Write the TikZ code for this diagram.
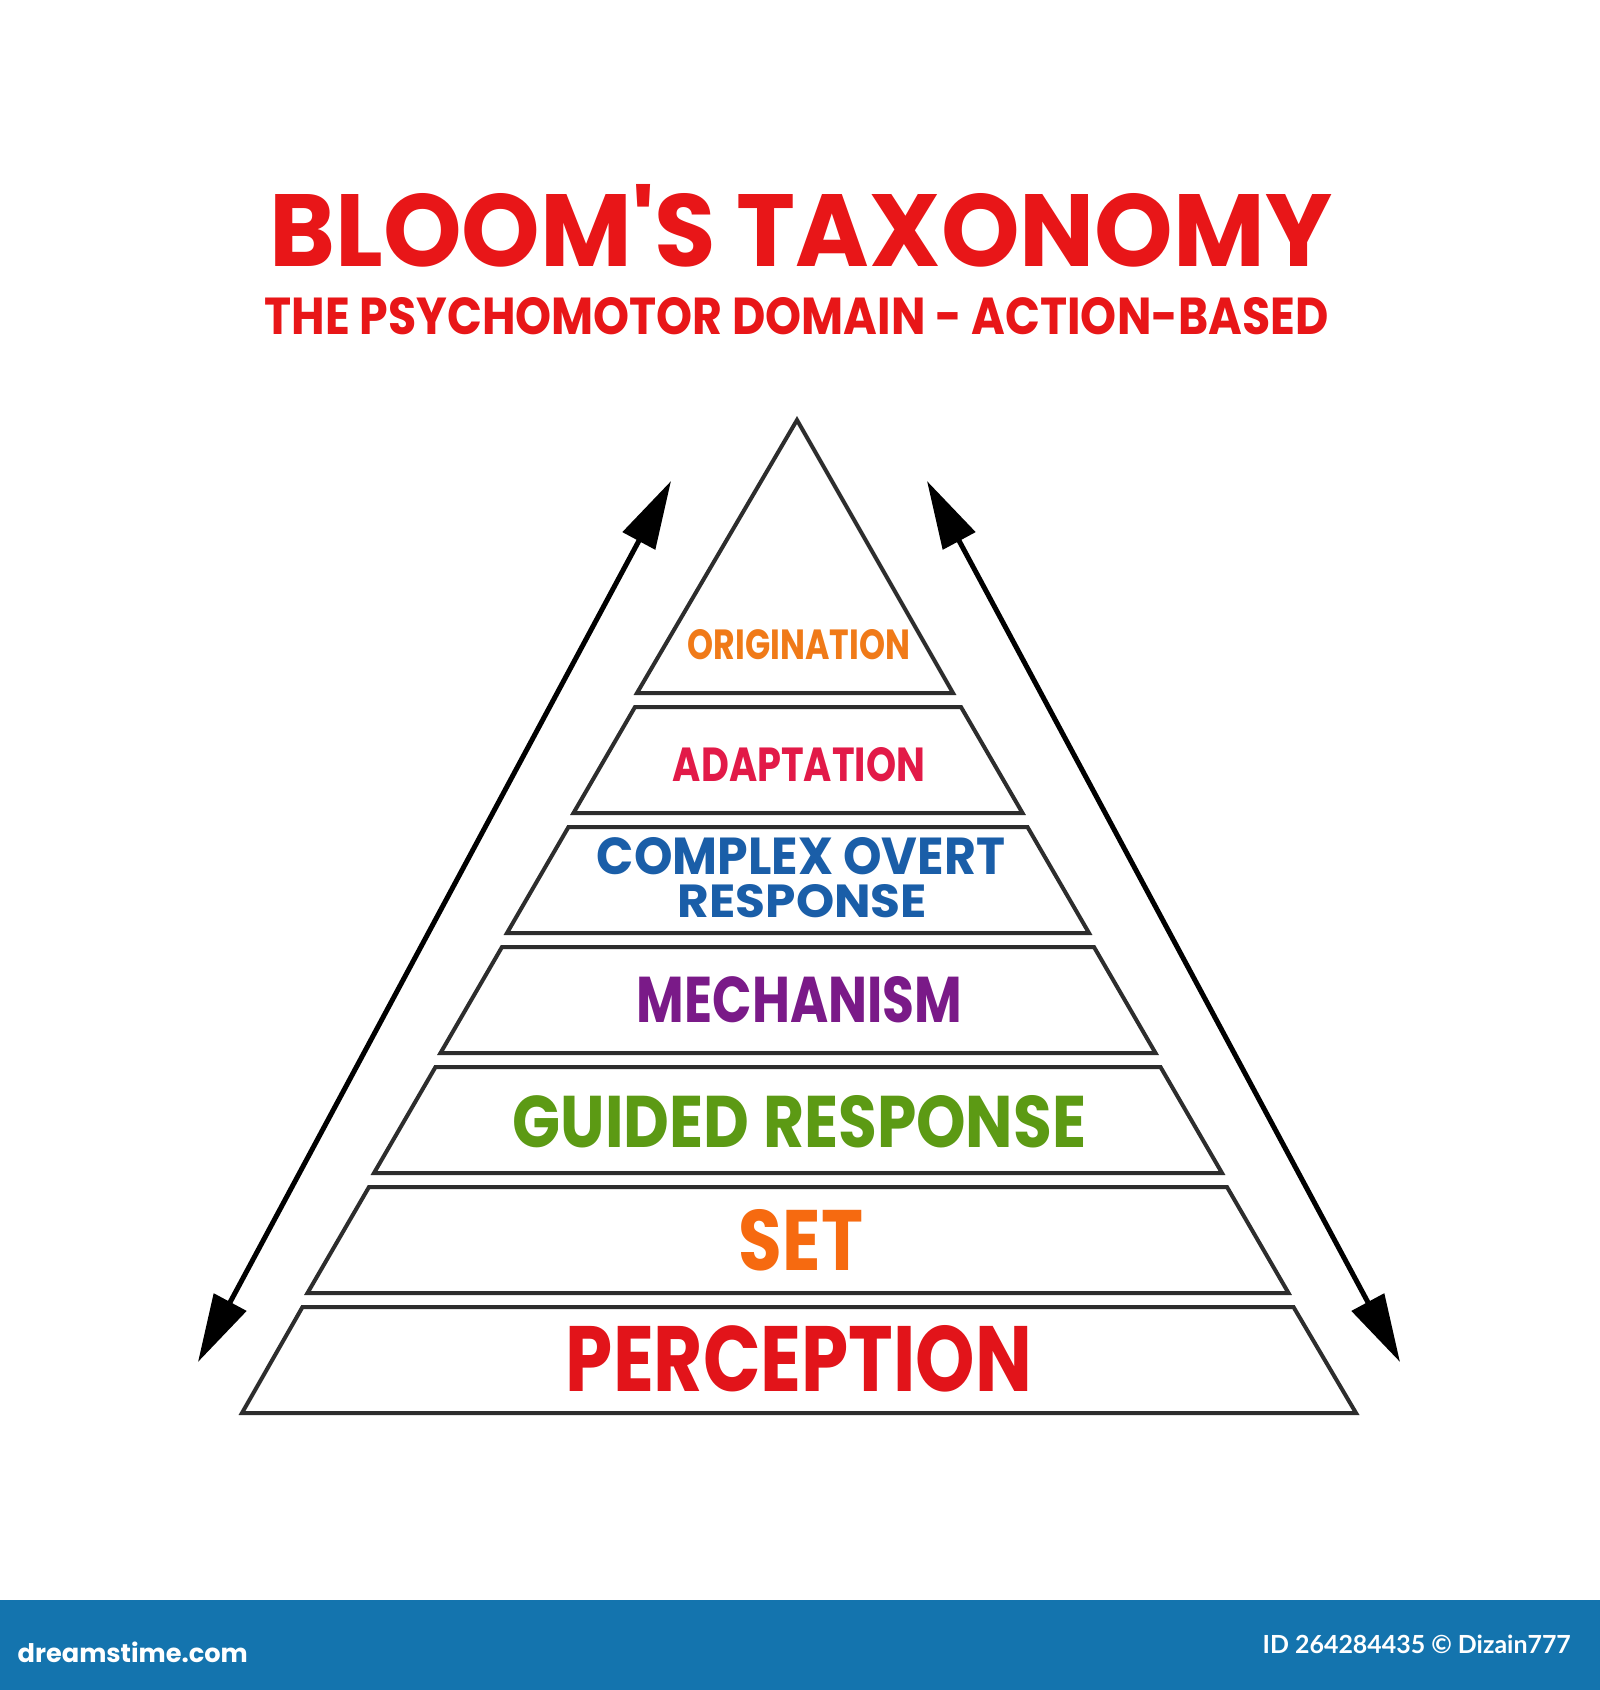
\documentclass[tikz,border=0pt]{standalone}
\usepackage{fontspec}
\usepackage{graphicx}
\usetikzlibrary{arrows.meta}
\newfontfamily\hand{Poppins}
\newfontfamily\uifont{Lato}
\definecolor{titlered}{RGB}{232,22,24}
\definecolor{origorange}{RGB}{240,122,24}
\definecolor{adaptred}{RGB}{226,26,72}
\definecolor{complexblue}{RGB}{26,94,168}
\definecolor{mechpurple}{RGB}{122,26,136}
\definecolor{guidedgreen}{RGB}{92,154,20}
\definecolor{setorange}{RGB}{246,106,16}
\definecolor{percred}{RGB}{226,20,26}
\definecolor{barblue}{RGB}{20,116,174}
\definecolor{edgegray}{RGB}{45,45,45}
\newcommand{\fitbox}[3]{\resizebox{#1cm}{#2cm}{\hand\bfseries #3}}
\tikzset{
  band/.style={draw=edgegray, line width=0.04cm, line join=miter, fill=white},
  lbl/.style={inner sep=0pt, outer sep=0pt, anchor=center},
  dblarrow/.style={draw=black, line width=0.05cm, {Triangle[length=0.68cm,width=0.36cm]}-{Triangle[length=0.68cm,width=0.36cm]}}
}
\begin{document}
\begin{tikzpicture}[x=0.01cm, y=-0.01cm]
\useasboundingbox (0,0) rectangle (1600,1690);
\fill[white] (0,0) rectangle (1600,1690);

% title
\node[lbl, text=titlered] (title) at (801,226) {\fitbox{10.62}{0.82}{BLOOM'S TAXONOMY}};
\node[lbl, text=titlered] (subtitle) at (796.5,316) {\fitbox{10.63}{0.37}{THE PSYCHOMOTOR DOMAIN - ACTION-BASED}};

% arrows
\coordinate (lt) at (671,481);
\coordinate (lb) at (198,1362);
\coordinate (rt) at (927,481);
\coordinate (rb) at (1400,1362);
\draw[dblarrow] (lb) -- (lt);
\draw[dblarrow] (rb) -- (rt);

% pyramid bands
\draw[band] (797,420) -- (953,693) -- (637,693) -- cycle;
\draw[band] (635,707) -- (961,707) -- (1022.5,813) -- (573.5,813) -- cycle;
\draw[band] (568.5,827) -- (1027.5,827) -- (1089,933) -- (507,933) -- cycle;
\draw[band] (502,947) -- (1094,947) -- (1155.5,1053) -- (440.5,1053) -- cycle;
\draw[band] (435.5,1067) -- (1160.5,1067) -- (1222,1173) -- (374,1173) -- cycle;
\draw[band] (369,1187) -- (1227,1187) -- (1288.5,1293) -- (307.5,1293) -- cycle;
\draw[band] (302.5,1307) -- (1293.5,1307) -- (1356,1413) -- (242,1413) -- cycle;

% labels
\node[lbl, text=origorange] (orig) at (799,645) {\fitbox{2.22}{0.30}{ORIGINATION}};
\node[lbl, text=adaptred] (adapt) at (799,765) {\fitbox{2.52}{0.34}{ADAPTATION}};
\node[lbl, text=complexblue] (complex1) at (801,856) {\fitbox{4.08}{0.37}{COMPLEX OVERT}};
\node[lbl, text=complexblue] (complex2) at (802.5,901) {\fitbox{2.49}{0.33}{RESPONSE}};
\node[lbl, text=mechpurple] (mech) at (799.5,1000) {\fitbox{3.25}{0.46}{MECHANISM}};
\node[lbl, text=guidedgreen] (guided) at (799.5,1122) {\fitbox{5.73}{0.52}{GUIDED RESPONSE}};
\node[lbl, text=setorange] (set) at (801,1240) {\fitbox{1.24}{0.61}{SET}};
\node[lbl, text=percred] (perc) at (799,1359) {\fitbox{4.66}{0.66}{PERCEPTION}};

% bottom bar
\fill[barblue] (0,1600) rectangle (1600,1690);
\node[inner sep=0pt, anchor=base west, text=white] (brand) at (17,1662) {\resizebox{2.30cm}{!}{\hand\bfseries dreamstime.com}};
\node[inner sep=0pt, anchor=base west, text=white] (credit) at (1262,1653) {\resizebox{3.08cm}{!}{\uifont\bfseries ID 264284435 © Dizain777}};
\end{tikzpicture}
\end{document}
